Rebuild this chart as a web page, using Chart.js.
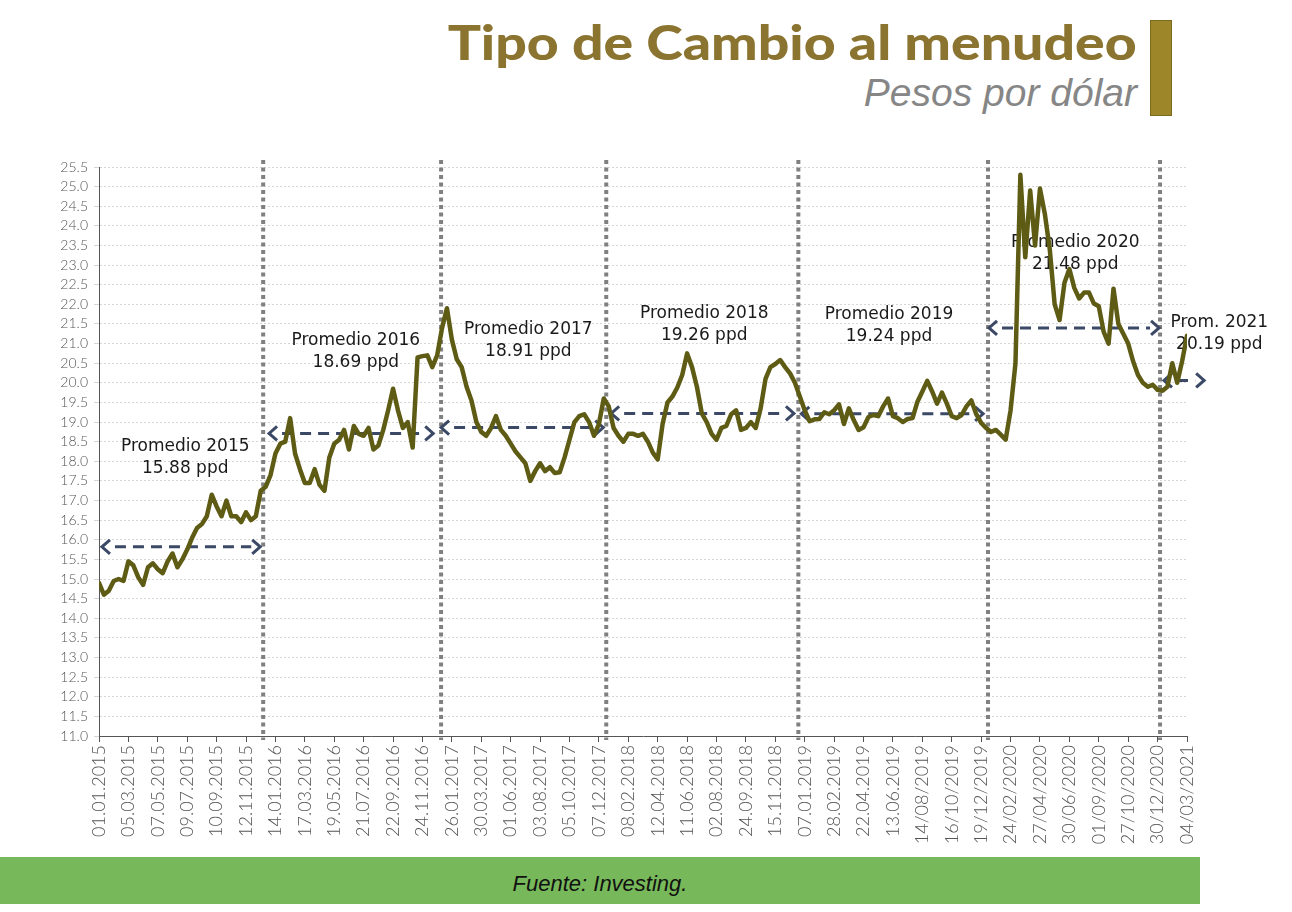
<!DOCTYPE html>
<html>
<head>
<meta charset="utf-8">
<script src="https://cdn.jsdelivr.net/npm/chart.js@4/dist/chart.umd.min.js"></script>
<style>
  html,body{margin:0;padding:0;background:#fff;}
  body{width:1292px;height:912px;position:relative;overflow:hidden;}
  #title{position:absolute;right:155px;top:12px;font-family:Lato,"Open Sans",sans-serif;font-weight:900;font-size:48px;color:#8a7430;white-space:nowrap;line-height:60px;transform-origin:100% 50%;}
  #subtitle{position:absolute;right:155px;top:69px;font-family:"Liberation Sans",Arial,sans-serif;font-style:italic;font-size:39px;color:#868686;white-space:nowrap;line-height:48px;}
  #bar{position:absolute;left:1150px;top:20px;width:20px;height:94px;background:#9c8629;border:1px solid #7c6a1e;}
  #chartWrap{position:absolute;left:0;top:150px;width:1292px;height:705px;}
  #footer{position:absolute;left:0;top:857px;width:1200px;height:47px;background:#77b85a;}
  #footer span{position:absolute;left:0;width:1200px;text-align:center;top:14px;font-family:"Liberation Sans",Arial,sans-serif;font-style:italic;font-size:22px;color:#111;}
</style>
</head>
<body>
<div id="title">Tipo de Cambio al menudeo</div>
<div id="subtitle">Pesos por dólar</div>
<div id="bar"></div>
<div id="chartWrap"><canvas id="c" width="1292" height="705"></canvas></div>
<div id="footer"><span>Fuente: Investing.</span></div>
<script>
// ---- data ----
const tickLabels = ['01.01.2015','05.03.2015','07.05.2015','09.07.2015','10.09.2015','12.11.2015',
  '14.01.2016','17.03.2016','19.05.2016','21.07.2016','22.09.2016','24.11.2016',
  '26.01.2017','30.03.2017','01.06.2017','03.08.2017','05.10.2017','07.12.2017',
  '08.02.2018','12.04.2018','11.06.2018','02.08.2018','24.09.2018','15.11.2018',
  '07.01.2019','28.02.2019','22.04.2019','13.06.2019','14/08/2019','16/10/2019','19/12/2019',
  '24/02/2020','27/04/2020','30/06/2020','01/09/2020','27/10/2020','30/12/2020','04/03/2021'];
const samplesPerTick = 6;

const rate = [
  14.9,14.6,14.7,14.95,15.0,14.95,15.45,15.35,15.05,14.85,
  15.3,15.4,15.25,15.15,15.45,15.65,15.3,15.5,15.75,16.05,
  16.3,16.4,16.6,17.15,16.85,16.6,17.0,16.6,16.6,16.45,
  16.7,16.5,16.6,17.25,17.35,17.65,18.2,18.45,18.5,19.1,
  18.2,17.8,17.45,17.45,17.8,17.4,17.25,18.1,18.45,18.55,
  18.8,18.3,18.9,18.7,18.65,18.85,18.3,18.4,18.8,19.3,
  19.85,19.3,18.85,19.0,18.35,20.65,20.68,20.7,20.4,20.7,
  21.4,21.9,21.1,20.6,20.4,19.9,19.55,19.0,18.75,18.65,
  18.85,19.15,18.8,18.65,18.45,18.25,18.1,17.95,17.5,17.75,
  17.95,17.75,17.85,17.7,17.72,18.1,18.55,19.0,19.15,19.2,
  19.0,18.65,18.95,19.6,19.4,18.85,18.65,18.5,18.7,18.7,
  18.65,18.7,18.5,18.22,18.05,18.95,19.5,19.65,19.88,20.2,
  20.75,20.4,19.9,19.22,19.0,18.7,18.55,18.85,18.9,19.2,
  19.3,18.8,18.85,19.0,18.85,19.35,20.1,20.4,20.48,20.58,
  20.4,20.24,20.0,19.65,19.3,19.02,19.07,19.08,19.25,19.2,
  19.3,19.45,18.95,19.35,19.05,18.8,18.87,19.13,19.18,19.15,
  19.4,19.6,19.15,19.1,19.0,19.08,19.1,19.52,19.78,20.05,
  19.78,19.47,19.75,19.47,19.15,19.1,19.18,19.4,19.55,19.2,
  18.98,18.85,18.75,18.8,18.68,18.55,19.3,20.5,25.3,23.2,
  24.9,23.5,24.95,24.3,23.4,22.0,21.6,22.55,22.9,22.42,
  22.15,22.3,22.3,22.02,21.95,21.3,21.0,22.4,21.5,21.25,
  21.0,20.55,20.2,20.0,19.9,19.95,19.82,19.8,19.9,20.5,
  20.0,20.55,21.2
];

// annotation data (x in sample units)
const yearDividers = [33.5, 69.8, 103.5, 142.7, 181.4, 216.5];
const avgLine1 = ['Promedio 2015','Promedio 2016','Promedio 2017','Promedio 2018','Promedio 2019','Promedio 2020','Prom. 2021'];
const avgLine2 = ['15.88 ppd','18.69 ppd','18.91 ppd','19.26 ppd','19.24 ppd','21.48 ppd','20.19 ppd'];
const avgValues = [15.82, 18.71, 18.86, 19.22, 19.21, 21.40, 20.06];
const arrowStart = [0.4, 34.5, 69.6, 104.3, 143.1, 181.4, 217.1];
const arrowEnd   = [33.1, 68.4, 103.1, 142.0, 180.6, 216.5, 225.7];
const labelX = [17.6, 52.4, 87.6, 123.5, 161.2, 199.2, 228.6];
const labelY = [18.1, 20.8, 21.08, 21.49, 21.47, 23.3, 21.26];

const xIdx = rate.map((_, i) => i);

const annotPlugin = {
  id: 'annot',
  beforeDatasetsDraw(chart) {
    const {ctx, chartArea, scales: {x, y}} = chart;
    ctx.save();
    ctx.strokeStyle = '#808080';
    ctx.lineWidth = 4;
    ctx.setLineDash([4, 3.5]);
    yearDividers.forEach(d => {
      const px = x.getPixelForValue(d);
      ctx.beginPath();
      ctx.moveTo(px, chartArea.top - 7);
      ctx.lineTo(px, chartArea.bottom + 4);
      ctx.stroke();
    });
    ctx.strokeStyle = '#3b4966';
    ctx.lineWidth = 3;
    avgValues.forEach((v, i) => {
      const x1 = x.getPixelForValue(arrowStart[i]);
      const x2 = x.getPixelForValue(arrowEnd[i]);
      const py = y.getPixelForValue(v);
      ctx.setLineDash([11, 7]);
      ctx.beginPath();
      ctx.moveTo(x1 + 14, py);
      ctx.lineTo(x2 - 10, py);
      ctx.stroke();
      ctx.setLineDash([]);
      ctx.beginPath();
      ctx.moveTo(x1 + 9, py - 7); ctx.lineTo(x1 + 1, py); ctx.lineTo(x1 + 9, py + 7);
      ctx.stroke();
      ctx.beginPath();
      ctx.moveTo(x2 - 9, py - 7); ctx.lineTo(x2 - 1, py); ctx.lineTo(x2 - 9, py + 7);
      ctx.stroke();
    });
    ctx.fillStyle = '#1a1a1a';
    ctx.font = '17px "DejaVu Sans", sans-serif';
    ctx.textAlign = 'center';
    ctx.textBaseline = 'middle';
    labelX.forEach((lx, i) => {
      const px = x.getPixelForValue(lx);
      const py = y.getPixelForValue(labelY[i]);
      ctx.fillText(avgLine1[i], px, py - 11);
      ctx.fillText(avgLine2[i], px, py + 11);
    });
    ctx.restore();
  }
};

new Chart(document.getElementById('c'), {
  type: 'line',
  data: {
    labels: xIdx,
    datasets: [
      { data: rate, borderColor: '#5e5b14', borderWidth: 4.5, pointRadius: 0, tension: 0, borderJoinStyle: 'round', borderCapStyle: 'round' },
      { data: rate, borderColor: '#d0c735', borderWidth: 1.8, pointRadius: 0, tension: 0, borderJoinStyle: 'round', borderDash: [3, 2] }
    ]
  },
  options: {
    responsive: false,
    animation: false,
    events: [],
    layout: { padding: { top: 17, right: 105, bottom: 0, left: 0 } },
    plugins: { legend: { display: false }, tooltip: { enabled: false } },
    scales: {
      x: {
        type: 'linear',
        min: 0,
        max: rate.length - 1,
        afterFit(s) { s.height = 119; },
        grid: { drawOnChartArea: false, drawTicks: true, tickLength: 6, color: '#555' },
        border: { display: true, color: '#555', width: 1 },
        ticks: {
          stepSize: samplesPerTick,
          autoSkip: false,
          minRotation: 90,
          maxRotation: 90,
          padding: 3,
          color: '#555',
          font: { family: 'Lato', weight: 300, size: 18 },
          callback(v) {
            const k = v / samplesPerTick;
            return Number.isInteger(k) ? tickLabels[k] : null;
          }
        }
      },
      y: {
        min: 11,
        max: 25.5,
        afterFit(s) { s.width = 99; },
        grid: { color: '#d6d6d6', lineWidth: 1, tickLength: 5 },
        border: { display: true, color: '#555', width: 1, dash: [2, 2] },
        ticks: {
          stepSize: 0.5,
          autoSkip: false,
          padding: 6,
          color: '#555',
          font: { family: 'Lato', weight: 300, size: 14 },
          callback(v) { return Number(v).toFixed(1); }
        }
      }
    }
  },
  plugins: [annotPlugin]
});

// widen the title glyphs to the reference span
(function(){
  const t = document.getElementById('title');
  const w = t.getBoundingClientRect().width;
  t.style.transform = 'scaleX(' + (689 / w) + ')';
})();
</script>
</body>
</html>
